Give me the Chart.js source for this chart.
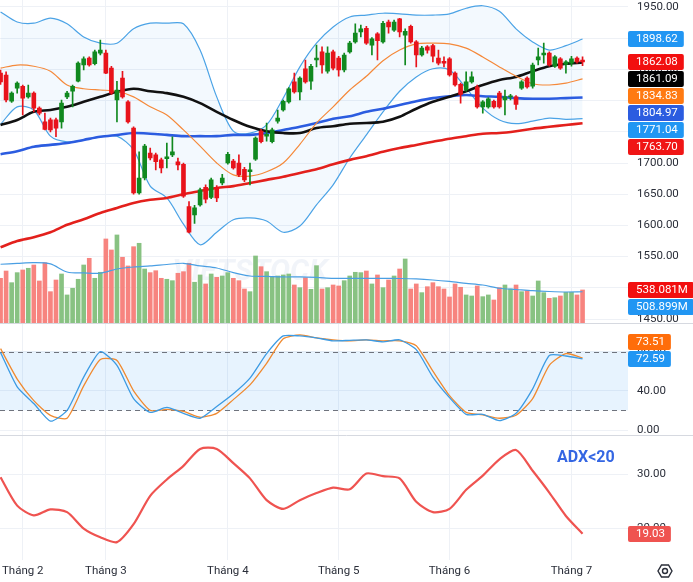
<!DOCTYPE html>
<html>
<head>
<meta charset="utf-8">
<script src="https://cdn.jsdelivr.net/npm/chart.js@4.4.1/dist/chart.umd.min.js"></script>
<style>
  html, body { margin: 0; padding: 0; background: #fff; overflow: hidden; }
</style>
</head>
<body>
<canvas id="chart" width="693" height="582"></canvas>
<script>
// month ticks (candle index where each month starts)
const monthLabels = ["Tháng 2", "Tháng 3", "Tháng 4", "Tháng 5", "Tháng 6", "Tháng 7"];
const monthIdx = [4, 19, 41, 61, 81, 103];

// daily candles
const opens = [1844,1841,1799,1820,1823,1806,1812,1788,1766,1769,
  1769,1766,1806,1815,1831,1857,1868,1859,1876,1876,
  1852,1801,1836,1798,1756,1652,1676,1716,1713,1705,
  1707,1713,1702,1698,1630,1617,1633,1661,1645,1661,
  1668,1700,1703,1700,1690,1686,1706,1751,1743,1734,
  1767,1785,1798,1830,1814,1851,1831,1865,1878,1847,
  1878,1868,1849,1878,1894,1910,1916,1889,1907,1894,
  1926,1913,1931,1905,1919,1894,1873,1886,1888,1868,
  1863,1867,1844,1826,1817,1830,1822,1790,1790,1799,
  1812,1801,1806,1806,1820,1836,1823,1865,1873,1876,
  1855,1867,1858,1860,1868,1865];
const highs = [1849,1846,1814,1830,1825,1825,1814,1790,1780,1772,
  1772,1801,1815,1825,1862,1870,1870,1881,1897,1881,
  1855,1831,1847,1800,1758,1718,1730,1724,1716,1708,
  1732,1742,1708,1700,1638,1632,1660,1665,1676,1664,
  1682,1717,1706,1713,1693,1700,1742,1754,1764,1756,
  1785,1801,1821,1844,1838,1865,1858,1889,1886,1886,
  1881,1871,1876,1895,1923,1921,1919,1901,1909,1927,
  1929,1929,1932,1915,1921,1896,1887,1888,1890,1881,
  1870,1869,1846,1828,1846,1846,1825,1800,1805,1801,
  1815,1817,1810,1808,1832,1838,1860,1884,1892,1878,
  1872,1869,1864,1871,1870,1870];
const lows = [1826,1798,1797,1812,1777,1804,1782,1777,1753,1750,
  1742,1756,1803,1790,1830,1849,1855,1857,1873,1843,
  1810,1766,1804,1764,1650,1650,1673,1705,1689,1684,
  1692,1710,1689,1645,1588,1603,1631,1636,1643,1638,
  1665,1698,1690,1678,1670,1665,1704,1732,1735,1732,
  1764,1783,1796,1812,1801,1828,1818,1854,1844,1844,
  1849,1839,1846,1876,1892,1902,1890,1873,1865,1892,
  1908,1911,1902,1857,1892,1854,1871,1876,1862,1857,
  1854,1839,1823,1796,1815,1828,1788,1780,1788,1788,
  1788,1777,1801,1786,1818,1820,1820,1857,1860,1855,
  1853,1850,1844,1855,1860,1856];
const closes = [1830,1801,1812,1828,1804,1812,1788,1780,1754,1753,
  1756,1796,1812,1823,1860,1867,1857,1878,1881,1844,
  1812,1817,1806,1766,1652,1676,1727,1708,1702,1692,
  1710,1718,1697,1647,1589,1628,1657,1642,1673,1644,
  1676,1714,1692,1681,1673,1689,1740,1734,1746,1753,
  1772,1799,1819,1814,1836,1830,1855,1868,1857,1876,
  1852,1849,1873,1892,1908,1915,1892,1899,1896,1924,
  1918,1926,1910,1911,1894,1873,1884,1881,1871,1860,
  1860,1841,1825,1810,1830,1838,1790,1798,1803,1790,
  1790,1806,1807,1794,1830,1822,1857,1870,1876,1857,
  1870,1852,1862,1867,1862,1862.08];
// volume, millions
const volumes = [730,850,658,823,867,895,949,686,987,510,
  702,801,456,566,714,949,1059,730,829,1377,
  1196,1443,1076,933,1250,1306,883,823,855,730,
  714,691,813,839,977,665,785,637,801,747,
  768,823,730,691,554,510,1097,921,839,757,
  768,785,801,620,576,740,549,938,554,576,
  620,604,691,768,829,823,850,637,785,576,
  702,768,883,1048,554,637,494,592,658,592,
  554,423,637,582,456,439,604,428,456,373,
  576,620,554,620,510,526,439,686,494,401,
  411,439,500,500,456,538.081];

// indicator lines, read every third candle
const sampleIdx = [0,3,6,9,12,15,18,21,24,27,30,33,36,39,42,45,48,51,54,57,60,63,66,69,72,75,78,81,84,87,90,93,96,99,102,105];
const bbUpper = [1942,1926,1924,1932,1923,1902,1892,1892,1915,1924,1924,1923,1881,1806,1751,1748,1761,1804,1854,1892,1918,1934,1937,1940,1939,1937,1937,1939,1948,1952,1943,1915,1894,1881,1888,1898.62];
const bbLower = [1762,1790,1785,1743,1734,1737,1742,1743,1721,1663,1644,1602,1569,1589,1609,1612,1607,1589,1599,1633,1665,1708,1745,1782,1815,1838,1851,1849,1820,1788,1769,1763,1767,1772,1770,1771.04];
const ma20 = [1852,1857,1855,1847,1825,1819,1817,1815,1806,1790,1777,1753,1727,1700,1681,1679,1686,1700,1730,1764,1790,1817,1839,1864,1881,1891,1892,1891,1884,1870,1854,1839,1827,1825,1828,1834.83];
const ma50 = [1761,1769,1782,1785,1790,1798,1806,1814,1819,1815,1812,1806,1796,1782,1769,1758,1751,1748,1748,1756,1759,1763,1764,1766,1774,1787,1798,1806,1815,1825,1833,1838,1847,1855,1859,1861.09];
const ma100 = [1714,1719,1726,1729,1732,1737,1742,1745,1748,1747,1745,1743,1743,1743,1745,1745,1748,1753,1758,1764,1771,1775,1782,1787,1793,1799,1804,1807,1809,1807,1806,1804,1803,1803,1804,1804.97];
const ma200 = [1565,1575,1581,1589,1601,1610,1620,1628,1636,1641,1644,1650,1655,1660,1663,1668,1673,1678,1684,1690,1698,1705,1711,1718,1724,1729,1734,1739,1743,1747,1748,1751,1755,1758,1761,1763.70];
const volMa = [961,974,987,966,834,818,813,883,916,933,957,977,933,900,823,768,760,752,752,744,730,730,730,730,727,719,702,678,648,620,566,546,526,513,505,508.899];
const stochK = [79,44,27,9,20,54,80,66,32,18,23,17,12,24,37,53,78,96,96,94,91,91.5,92,90,92,82,54,33,16,16,9.5,17,42,76,75.5,72.59];
const stochD = [83,52,30,15,12,45,72,71,40,20,21,19,13,17,31,46,68,93,97,94,92,91,92,91,91,86,60,35,18,15.5,12,15,32,66,78,73.51];
const adx = [29.4,24.2,22.4,23.5,23.0,20.0,18.4,17.5,20.8,26.0,29.0,31.5,34.6,34.6,32.0,29.2,25.2,23.6,25.2,26.5,27.5,27.2,30.1,29.6,29.2,24.9,23.0,23.6,27.1,29.7,32.7,34.4,30.6,26.6,22.3,19.03];

const priceTicks = [1450,1500,1550,1600,1650,1700,1750,1800,1850,1900,1950];
const stochTicks = [0,40,80];
const stochBand = [20,80];
const adxTicks = [20,30];

const FONT = 'Roboto, "Open Sans", sans-serif';
const FS = 11.5;
const TXT = '#2a2e39';
const GRID = '#eef1f6';
const UP = '#10891f', DOWN = '#e8131b';
const VUP = '#88c282', VDOWN = '#f7847f';

const idx = opens.map((o, i) => i);
const isUp = i => closes[i] >= opens[i];
const pts = arr => arr.map((v, k) => ({x: sampleIdx[k], y: v}));

function fixedTicks(list) {
  return s => { s.ticks = list.map(v => ({value: v})); };
}
function rightAxis(extra) {
  return Object.assign({
    type: 'linear', position: 'right', stack: 'panes',
    afterFit: s => { s.width = 65; s.paddingTop = 0; s.paddingBottom = 0; },
    grid: {color: GRID, drawTicks: false},
    border: {display: false},
    ticks: {color: TXT, font: {family: FONT, size: FS}, padding: 9, autoSkip: false, callback: v => v.toFixed(2)}
  }, extra);
}

function lineSet(label, data, color, width, axis, order, extra) {
  return Object.assign({
    type: 'line', label, data: pts(data), yAxisID: axis, borderColor: color,
    borderWidth: width, pointRadius: 0, tension: 0.3, fill: false, order
  }, extra || {});
}

const datasets = [
  {type: 'bar', label: 'body', yAxisID: 'yPrice', order: 0, grouped: false,
   data: idx.map(i => ({x: i, y: [opens[i], closes[i]]})),
   backgroundColor: idx.map(i => isUp(i) ? UP : DOWN), barThickness: 4, minBarLength: 1},
  {type: 'bar', label: 'wick', yAxisID: 'yPrice', order: 1, grouped: false,
   data: idx.map(i => ({x: i, y: [lows[i], highs[i]]})),
   backgroundColor: idx.map(i => isUp(i) ? UP : DOWN), barThickness: 1},
  lineSet('MA20', ma20, '#f5893a', 1.2, 'yPrice', 3),
  lineSet('MA50', ma50, '#111111', 2.6, 'yPrice', 4),
  lineSet('MA100', ma100, '#2b5ce0', 2.6, 'yPrice', 5),
  lineSet('MA200', ma200, '#e3201c', 2.6, 'yPrice', 6),
  lineSet('BB upper', bbUpper, '#4ba3e6', 1.2, 'yPrice', 7),
  lineSet('BB lower', bbLower, '#4ba3e6', 1.2, 'yPrice', 7, {fill: '-1', backgroundColor: 'rgba(33,150,243,0.055)'}),
  lineSet('Vol MA', volMa, '#4a9fe3', 1.2, 'yVol', 8),
  {type: 'bar', label: 'volume', yAxisID: 'yVol', order: 9, grouped: false,
   data: idx.map(i => ({x: i, y: volumes[i]})),
   backgroundColor: idx.map(i => isUp(i) ? VUP : VDOWN), barThickness: 4},
  lineSet('%K', stochK, '#3d9be3', 1.3, 'yStoch', 2, {tension: 0.2}),
  lineSet('%D', stochD, '#f08a30', 1.3, 'yStoch', 3, {tension: 0.2}),
  lineSet('ADX', adx, '#ef5350', 2.2, 'yAdx', 2, {tension: 0.25})
];

function badge(ctx, x, y, text, bg) {
  ctx.font = `${FS}px ${FONT}`;
  const w = ctx.measureText(text).width + 14, h = 16;
  ctx.fillStyle = bg;
  ctx.beginPath();
  if (ctx.roundRect) ctx.roundRect(x, Math.round(y - h / 2), w, h, 2);
  else ctx.rect(x, Math.round(y - h / 2), w, h);
  ctx.fill();
  ctx.fillStyle = '#fff';
  ctx.textAlign = 'left';
  ctx.textBaseline = 'middle';
  ctx.fillText(text, x + 8, Math.round(y) + 0.5);
}

function badgeGroup(chart, axis, items, dir) {
  const s = chart.scales[axis];
  const list = items.map(b => Object.assign({}, b, {y: s.getPixelForValue(b.v)})).sort((a, b) => a.y - b.y);
  const gap = 17;
  if (dir === 'down') {
    for (let k = 1; k < list.length; k++) list[k].y = Math.max(list[k].y, list[k - 1].y + gap);
  } else {
    for (let k = list.length - 2; k >= 0; k--) list[k].y = Math.min(list[k].y, list[k + 1].y - gap);
  }
  list.forEach(b => badge(chart.ctx, chart.chartArea.right, b.y, b.text, b.bg));
}

function gear(ctx, cx, cy) {
  ctx.save();
  ctx.strokeStyle = '#2a2e39';
  ctx.lineWidth = 1.4;
  ctx.beginPath();
  for (let k = 0; k < 6; k++) {
    const a = Math.PI / 3 * k;
    const px = cx + 7 * Math.cos(a), py = cy + 7 * Math.sin(a);
    if (k === 0) ctx.moveTo(px, py); else ctx.lineTo(px, py);
  }
  ctx.closePath();
  ctx.stroke();
  ctx.beginPath();
  ctx.arc(cx, cy, 2.5, 0, Math.PI * 2);
  ctx.stroke();
  ctx.restore();
}

const panes = {
  id: 'panes',
  beforeDatasetsDraw(chart) {
    const {ctx, chartArea: a, scales} = chart;
    const ys = scales.yStoch;
    const y80 = ys.getPixelForValue(stochBand[1]), y20 = ys.getPixelForValue(stochBand[0]);
    ctx.save();
    ctx.fillStyle = 'rgba(33,150,243,0.11)';
    ctx.fillRect(a.left, y80, a.right - a.left, y20 - y80);
    ctx.strokeStyle = '#6f737d';
    ctx.lineWidth = 1;
    ctx.setLineDash([5, 4]);
    [y80, y20].forEach(y => {
      ctx.beginPath();
      ctx.moveTo(a.left, Math.round(y) + 0.5);
      ctx.lineTo(a.right, Math.round(y) + 0.5);
      ctx.stroke();
    });
    ctx.setLineDash([]);
    // faint watermark
    ctx.font = `bold italic 30px ${FONT}`;
    ctx.fillStyle = 'rgba(120,150,200,0.10)';
    ctx.textAlign = 'center';
    ctx.textBaseline = 'middle';
    ctx.fillText('VIETSTOCK', 250, 272);
    ctx.restore();
  },
  afterDraw(chart) {
    const {ctx, scales} = chart;
    ctx.save();
    ctx.strokeStyle = '#d6d9e0';
    ctx.lineWidth = 1;
    [scales.yStoch.top, scales.yAdx.top].forEach(y => {
      ctx.beginPath();
      ctx.moveTo(0, Math.round(y) + 0.5);
      ctx.lineTo(chart.width, Math.round(y) + 0.5);
      ctx.stroke();
    });
    const last = a => a[a.length - 1];
    const n = closes.length - 1;
    badgeGroup(chart, 'yPrice', [
      {v: last(bbUpper), text: last(bbUpper).toFixed(2), bg: '#2196f3'},
      {v: closes[n], text: closes[n].toFixed(2), bg: isUp(n) ? UP : '#f20f0f'},
      {v: last(ma50), text: last(ma50).toFixed(2), bg: '#000000'},
      {v: last(ma20), text: last(ma20).toFixed(2), bg: '#ff7a12'},
      {v: last(ma100), text: last(ma100).toFixed(2), bg: '#2b5ce0'},
      {v: last(bbLower), text: last(bbLower).toFixed(2), bg: '#2196f3'},
      {v: last(ma200), text: last(ma200).toFixed(2), bg: '#f01515'}
    ], 'down');
    badgeGroup(chart, 'yVol', [
      {v: volumes[n], text: volumes[n].toFixed(3) + 'M', bg: isUp(n) ? UP : '#f20f0f'},
      {v: last(volMa), text: last(volMa).toFixed(3) + 'M', bg: '#2196f3'}
    ], 'down');
    badgeGroup(chart, 'yStoch', [
      {v: last(stochD), text: last(stochD).toFixed(2), bg: '#ff6d0a'},
      {v: last(stochK), text: last(stochK).toFixed(2), bg: '#2196f3'}
    ], 'up');
    badgeGroup(chart, 'yAdx', [
      {v: last(adx), text: last(adx).toFixed(2), bg: '#ef5350'}
    ], 'down');
    // annotation
    ctx.font = `bold 16px ${FONT}`;
    ctx.fillStyle = '#3466e3';
    ctx.textAlign = 'left';
    ctx.textBaseline = 'middle';
    ctx.fillText('ADX<20', scales.x.getPixelForValue(100.4), scales.yAdx.getPixelForValue(33));
    ctx.restore();
    gear(ctx, chart.chartArea.right + 37, scales.x.top + 11);
  }
};

new Chart(document.getElementById('chart'), {
  type: 'bar',
  data: {datasets},
  options: {
    responsive: false,
    animation: false,
    devicePixelRatio: 1,
    layout: {padding: 0},
    plugins: {legend: {display: false}, tooltip: {enabled: false}},
    scales: {
      x: {
        type: 'linear', min: -0.1, max: 113.2, offset: false,
        afterBuildTicks: fixedTicks(monthIdx),
        afterFit: s => { s.height = 22; s.paddingLeft = 0; s.paddingRight = 0; },
        grid: {color: GRID, drawTicks: false, offset: false},
        border: {display: false},
        ticks: {color: TXT, font: {family: FONT, size: FS}, padding: 4, autoSkip: false, maxRotation: 0,
                callback: (v, i) => monthLabels[i]}
      },
      yPrice: rightAxis({stackWeight: 322.7, min: 1444.1, max: 1961.2, afterBuildTicks: fixedTicks(priceTicks)}),
      yStoch: rightAxis({stackWeight: 112.3, min: -5.1, max: 109.5, afterBuildTicks: fixedTicks(stochTicks)}),
      yAdx: rightAxis({stackWeight: 125, min: 14.22, max: 37.16, afterBuildTicks: fixedTicks(adxTicks)}),
      yVol: {type: 'linear', display: false, min: -3904, max: 5308}
    }
  },
  plugins: [panes]
});
</script>
</body>
</html>
